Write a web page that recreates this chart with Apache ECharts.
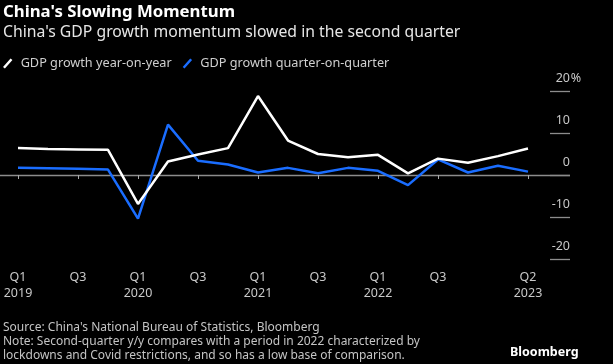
<!DOCTYPE html>
<html><head><meta charset="utf-8">
<script src="https://cdn.jsdelivr.net/npm/echarts@6/dist/echarts.min.js"></script>
<style>html,body{margin:0;padding:0;background:#000;}#c{width:613px;height:364px;}</style>
</head><body><div id="c"></div>
<script>
const categories = ['Q1 2019','Q2 2019','Q3 2019','Q4 2019','Q1 2020','Q2 2020','Q3 2020','Q4 2020','Q1 2021','Q2 2021','Q3 2021','Q4 2021','Q1 2022','Q2 2022','Q3 2022','Q4 2022','Q1 2023','Q2 2023'];
const yoy = [6.4, 6.2, 6.1, 6.0, -6.9, 3.2, 4.9, 6.4, 18.8, 8.2, 5.0, 4.2, 4.8, 0.4, 3.9, 2.9, 4.5, 6.3];
const qoq = [1.7, 1.6, 1.5, 1.3, -10.4, 12.0, 3.4, 2.5, 0.6, 1.7, 0.4, 1.7, 1.0, -2.4, 3.7, 0.6, 2.2, 0.8];
const yTicks = [-20, -10, 0, 10, 20];
const labelIdx = [0, 2, 4, 6, 8, 10, 12, 14, 17];

const FONT = 'Noto Sans';
const chart = echarts.init(document.getElementById('c'), null, {renderer: 'canvas'});
const showAt = (i) => labelIdx.indexOf(i) >= 0;
const gTop = 91, gHeight = 168;
const slash = 'path://M0,9 L8,0 L10,1.6 L2,10.6 Z M13,0 L13,0.01 L13.01,0 Z';
chart.setOption({
  backgroundColor: '#000',
  animation: false,
  textStyle: {fontFamily: FONT},
  title: [
    {text: "China's Slowing Momentum", left: 3, top: 4, padding: 0,
     textStyle: {color: '#fff', fontSize: 16.8, fontWeight: 'bold', fontFamily: FONT}},
    {text: "China's GDP growth momentum slowed in the second quarter", left: 3, top: 25, padding: 0,
     textStyle: {color: '#e6e6e6', fontSize: 15.75, fontWeight: 'normal', fontFamily: FONT}},
    {text: "Source: China's National Bureau of Statistics, Bloomberg\nNote: Second-quarter y/y compares with a period in 2022 characterized by\nlockdowns and Covid restrictions, and so has a low base of comparison.",
     left: 3, top: 320, padding: 0,
     textStyle: {color: '#c4c4c4', fontSize: 12, fontWeight: 'normal', lineHeight: 14.3, fontFamily: FONT}},
    {text: 'Bloomberg', left: 510, top: 346, padding: 0,
     textStyle: {color: '#fff', fontSize: 12.5, fontWeight: 'bold', fontFamily: FONT}}
  ],
  legend: {
    left: 3, top: 57, padding: 0, itemGap: 11, itemWidth: 13, itemHeight: 10,
    textStyle: {color: '#cfcfcf', fontSize: 12.7, fontFamily: FONT},
    data: [
      {name: 'GDP growth year-on-year', icon: slash},
      {name: 'GDP growth quarter-on-quarter', icon: slash}
    ]
  },
  grid: [
    {left: 0, width: 570, top: gTop, height: gHeight},
    {left: 550, width: 20, top: gTop, height: gHeight},
    {left: 18, width: 510, top: gTop, height: gHeight}
  ],
  xAxis: [
    {gridIndex: 0, type: 'value', show: false, min: 0, max: 1},
    {gridIndex: 1, type: 'value', show: false, min: 0, max: 1},
    {gridIndex: 2, type: 'category', data: categories, boundaryGap: false,
     axisLine: {show: false},
     axisTick: {show: true, interval: (i) => showAt(i), length: 4, lineStyle: {color: '#aaa', width: 1}},
     axisLabel: {interval: (i) => showAt(i), color: '#c8c8c8', fontSize: 12.5, lineHeight: 15.5, margin: 11,
       formatter: (v, i) => {
         const [q, y] = v.split(' ');
         return (q === 'Q1' || i === categories.length - 1) ? q + '\n' + y : q;
       }},
     splitLine: {show: false}}
  ],
  yAxis: [
    {gridIndex: 0, type: 'value', min: yTicks[0], max: yTicks[yTicks.length - 1], interval: 10,
     axisLine: {show: false}, axisTick: {show: false}, axisLabel: {show: false},
     splitLine: {show: true, lineStyle: {color: ['rgba(0,0,0,0)', 'rgba(0,0,0,0)', '#8c8c8c', 'rgba(0,0,0,0)', 'rgba(0,0,0,0)'], width: 1.3}}},
    {gridIndex: 1, type: 'value', min: yTicks[0], max: yTicks[yTicks.length - 1], interval: 10, position: 'left',
     axisLine: {show: false}, axisTick: {show: false},
     axisLabel: {show: true, color: '#c8c8c8', fontSize: 12.5, margin: -32, align: 'right', verticalAlign: 'bottom', padding: [0, 0, 6, 0],
       formatter: (v) => v === yTicks[yTicks.length - 1] ? '{n|' + v + '}{p|%}' : '{n|' + v + '}{p| }',
       rich: {
         n: {color: '#c8c8c8', fontSize: 12.5, fontFamily: FONT},
         p: {width: 12, color: '#c8c8c8', fontSize: 12.5, align: 'left', fontFamily: FONT}
       }},
     splitLine: {show: true, lineStyle: {color: '#8c8c8c', width: 1.3}}},
    {gridIndex: 2, type: 'value', min: yTicks[0], max: yTicks[yTicks.length - 1], interval: 10, show: false, splitLine: {show: false}}
  ],
  series: [
    {name: 'GDP growth year-on-year', type: 'line', xAxisIndex: 2, yAxisIndex: 2, data: yoy,
     symbol: 'none', color: '#ffffff', lineStyle: {width: 2.5, color: '#ffffff'}, z: 3},
    {name: 'GDP growth quarter-on-quarter', type: 'line', xAxisIndex: 2, yAxisIndex: 2, data: qoq,
     symbol: 'none', color: '#1a6dff', lineStyle: {width: 2.5, color: '#1a6dff'}, z: 2}
  ]
});
</script></body></html>
